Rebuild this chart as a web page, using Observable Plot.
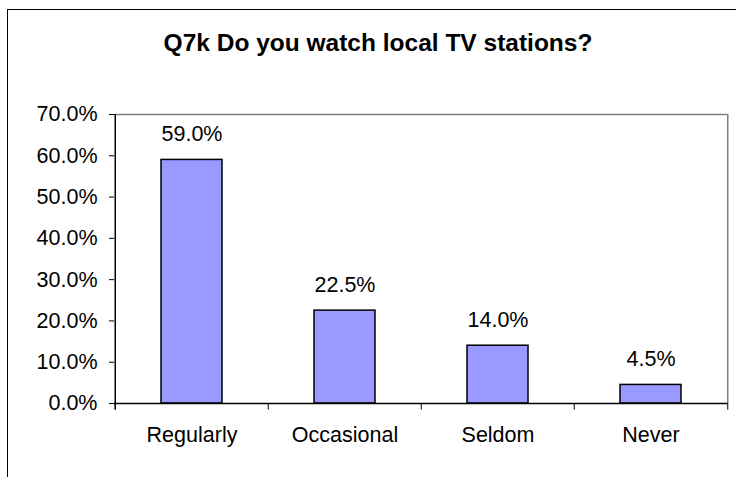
<!DOCTYPE html>
<html><head><meta charset="utf-8">
<script src="https://cdn.jsdelivr.net/npm/d3@7"></script>
<script src="https://cdn.jsdelivr.net/npm/@observablehq/plot@0.6"></script>
<style>
html,body{margin:0;padding:0;background:#fff;overflow:hidden;}
#wrap{position:relative;width:736px;height:477px;overflow:hidden;font-family:Arial,"Liberation Sans",sans-serif;}
#border{position:absolute;left:7px;top:9px;width:760px;height:500px;border:1px solid #000;box-sizing:border-box;}
#title{position:absolute;left:0;width:756px;top:29px;text-align:center;font-weight:bold;font-size:24.5px;color:#000;white-space:nowrap;}
#chart{position:absolute;left:0;top:0;}
</style></head>
<body><div id="wrap"><div id="border"></div><div id="title">Q7k Do you watch local TV stations?</div><div id="chart"></div></div>
<script>
const categories = ["Regularly", "Occasional", "Seldom", "Never"];
const values = [59.0, 22.5, 14.0, 4.5];
const yTicks = [0, 10, 20, 30, 40, 50, 60, 70];

const data = categories.map((c, i) => ({category: c, value: values[i]}));
const W = 736, H = 477, mL = 114, mR = 8, mT = 114, mB = 74;
const step = (W - mL - mR) / categories.length;
const fmt = v => (v).toFixed(1) + "%";
const FS = 21.5;

const chart = Plot.plot({
  width: W, height: H,
  marginLeft: mL, marginRight: mR, marginTop: mT, marginBottom: mB,
  style: {fontFamily: "Arial, 'Liberation Sans', sans-serif", fontSize: FS + "px", color: "#000", background: "transparent", overflow: "visible"},
  x: {domain: categories, paddingInner: 0.6, paddingOuter: 0.3, label: null},
  y: {domain: [0, 70], label: null},
  marks: [
    Plot.ruleY([70], {stroke: "#808080", strokeWidth: 1.5}),
    Plot.ruleX([categories[categories.length - 1]], {dx: step / 2, stroke: "#808080", strokeWidth: 1.5, y1: 0, y2: 70}),
    Plot.barY(data, {x: "category", y: "value", fill: "#9999ff", stroke: "#000", strokeWidth: 1.5}),
    Plot.text(data, {x: "category", y: "value", text: d => fmt(d.value), lineAnchor: "bottom", dy: -19, fontSize: FS, fill: "#000"}),
    Plot.axisY({ticks: yTicks, tickFormat: fmt, tickSize: 5, tickPadding: 12, fontSize: FS, label: null, stroke: "#000"}),
    Plot.ruleX([categories[0]], {dx: -step / 2, y1: -1.6, y2: 70, stroke: "#000", strokeWidth: 1.5}),
    Plot.ruleY([0], {stroke: "#000", strokeWidth: 1.5}),
    Plot.ruleX(categories, {x: d => d, dx: -step / 2, y1: 0, y2: -1.6, stroke: "#000"}),
    Plot.ruleX([categories[categories.length - 1]], {dx: step / 2, y1: 0, y2: -1.6, stroke: "#000"}),
    Plot.axisX({tickSize: 0, tickPadding: 23, fontSize: FS, label: null})
  ]
});
document.getElementById("chart").appendChild(chart);
</script></body></html>
